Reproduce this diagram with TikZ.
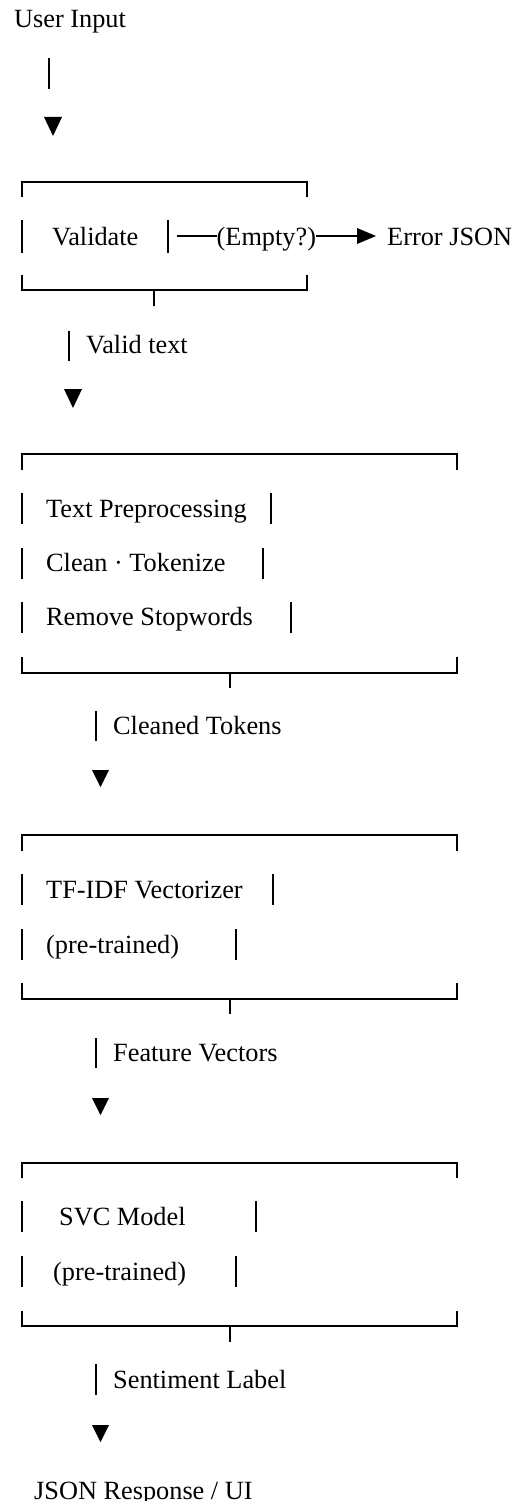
\documentclass[tikz,border=0pt]{standalone}
\usepackage{fontspec}
\setmainfont{Liberation Serif}
\begin{document}
\begin{tikzpicture}[x=1pt,y=-1pt,
  txt/.style={anchor=base west, inner sep=0pt, font=\fontsize{26.3}{30}\selectfont},
  bar/.style={line width=1.6pt},
  rule/.style={line width=1.5pt, line cap=butt},
  tri/.style={fill=black, draw=none}]
\useasboundingbox (0,0) rectangle (517,1501);

% ---- input and first arrow ----
\node[txt] (input) at (14,28) {User Input};
\draw[bar] (49,58) -- (49,89);
\fill[tri] (44,117) -- (62,117) -- (53,136) -- cycle;

% ---- validation box ----
\draw[rule] (22,197) -- (22,182) -- (307,182) -- (307,197);
\draw[rule] (22,275) -- (22,290) -- (307,290) -- (307,275);
\draw[bar] (154,290) -- (154,306);
\draw[bar] (22,220) -- (22,253);
\draw[bar] (168,220) -- (168,253);
\node[txt] (validate) at (52,245) {Validate};
\node[txt] (empty) at (216.5,245) {(Empty?)};
\node[txt] (error) at (387,245) {Error JSON};
\draw[rule] (177,236) -- (empty.west |- 0,236);
\draw[rule] (empty.east |- 0,236) -- (358,236);
\fill[tri] (357,228) -- (376,236) -- (357,244) -- cycle;

% ---- valid text arrow ----
\draw[bar] (69,331) -- (69,361);
\node[txt] (valid) at (86,353) {Valid text};
\fill[tri] (64,389) -- (82,389) -- (73,408) -- cycle;

% ---- preprocessing box ----
\draw[rule] (22,470) -- (22,454) -- (457,454) -- (457,470);
\draw[rule] (22,657) -- (22,673) -- (457,673) -- (457,657);
\draw[bar] (230,673) -- (230,688);
\node[txt] (pre1) at (46,517) {Text Preprocessing};
\node[txt] (pre2) at (46,571) {Clean · Tokenize};
\node[txt] (pre3) at (46,625) {Remove Stopwords};
\foreach \r/\ya/\yb in {271/493/524, 263/548/579, 291/602/633} {
  \draw[bar] (22,\ya) -- (22,\yb);
  \draw[bar] (\r,\ya) -- (\r,\yb);
}

% ---- cleaned tokens arrow ----
\draw[bar] (96,711) -- (96,741);
\node[txt] (tokens) at (113,734) {Cleaned Tokens};
\fill[tri] (92,770) -- (109,770) -- (100.5,787) -- cycle;

% ---- vectorizer box ----
\draw[rule] (22,851) -- (22,835) -- (457,835) -- (457,851);
\draw[rule] (22,983) -- (22,999) -- (457,999) -- (457,983);
\draw[bar] (230,999) -- (230,1014);
\node[txt] (vec1) at (46,898) {TF-IDF Vectorizer};
\node[txt] (vec2) at (46,953) {(pre-trained)};
\foreach \r/\ya/\yb in {273/874/905, 236/929/960} {
  \draw[bar] (22,\ya) -- (22,\yb);
  \draw[bar] (\r,\ya) -- (\r,\yb);
}

% ---- feature vectors arrow ----
\draw[bar] (96,1038) -- (96,1068);
\node[txt] (features) at (113,1061) {Feature Vectors};
\fill[tri] (92,1098) -- (109,1098) -- (100.5,1115) -- cycle;

% ---- classifier box ----
\draw[rule] (22,1178) -- (22,1163) -- (457,1163) -- (457,1178);
\draw[rule] (22,1311) -- (22,1326) -- (457,1326) -- (457,1311);
\draw[bar] (230,1326) -- (230,1342);
\node[txt] (svc1) at (59,1225) {SVC Model};
\node[txt] (svc2) at (53,1280) {(pre-trained)};
\foreach \r/\ya/\yb in {256/1201/1232, 236/1256/1287} {
  \draw[bar] (22,\ya) -- (22,\yb);
  \draw[bar] (\r,\ya) -- (\r,\yb);
}

% ---- sentiment label arrow and output ----
\draw[bar] (96,1364) -- (96,1395);
\node[txt] (label) at (113,1388) {Sentiment Label};
\fill[tri] (92,1425) -- (109,1425) -- (100.5,1442) -- cycle;
\node[txt] (output) at (34,1499) {JSON Response / UI};
\end{tikzpicture}
\end{document}
